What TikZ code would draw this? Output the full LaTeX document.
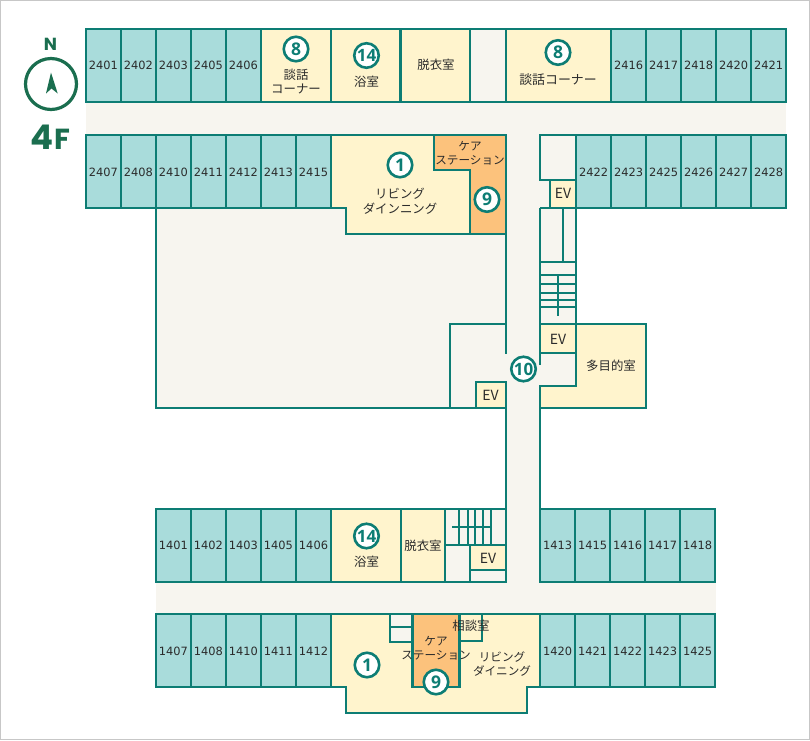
\documentclass[tikz,border=0pt]{standalone}
\usepackage{fontspec}
\setmainfont{Noto Sans CJK JP}
\newfontfamily\numfont{DejaVu Sans}
\newfontfamily\boldnum{Open Sans}
\newfontfamily\headfont{Poppins}
\definecolor{wall}{HTML}{0D7D74}
\definecolor{guest}{HTML}{A9DCDB}
\definecolor{cream}{HTML}{FFF4CD}
\definecolor{care}{HTML}{FCC27C}
\definecolor{floorc}{HTML}{F7F5EF}
\definecolor{brand}{HTML}{1A6E4F}
\definecolor{ink}{HTML}{2B2B2B}
\begin{document}
\begin{tikzpicture}[x=1pt,y=-1pt,
  wl/.style={draw=wall,line width=2.2pt,line join=miter},
  gr/.style={wl,fill=guest},
  cr/.style={wl,fill=cream},
  fl/.style={fill=floorc},
  roomno/.style={font=\numfont\fontsize{11.4}{12}\selectfont,text=ink,inner sep=0pt,text height=8.5pt,text depth=0pt},
  lbl/.style={font=\fontsize{12.4}{14}\selectfont,text=ink,inner sep=0pt},
  lblnarrow/.style={font=\fontsize{11.6}{14}\selectfont,text=ink,inner sep=0pt},
  evlbl/.style={font=\fontsize{14}{14}\selectfont,text=ink,inner sep=0pt},
  badge/.style={circle,draw=wall,fill=white,line width=2.6pt,minimum size=24.5pt,inner sep=0pt,text=wall,font=\boldnum\bfseries\fontsize{17.5}{18}\selectfont},
  badgewide/.style={badge,font=\boldnum\bfseries\fontsize{17}{17}\selectfont},
  headlbl/.style={text=brand,inner sep=0pt,font=\headfont\bfseries}]
\useasboundingbox (0,0) rectangle (810,740);
\draw[draw=black!22,line width=1pt,fill=white] (0.5,0.5) rectangle (809.5,739.5);

% floor areas
\fill[fl] (86,102) rectangle (786,135);
\fill[fl] (470,29) rectangle (506,102);
\fill[fl] (506,102) rectangle (540,614);
\fill[fl] (156,208) rectangle (506,408);
\fill[fl] (540,135) rectangle (576,386);
\fill[fl] (156,582) rectangle (716,614);
\fill[fl] (445,509) rectangle (506,582);

% guest rooms
\foreach \n/\x in {2401/86,2402/121,2403/156,2405/191,2406/226,2416/611,2417/646,2418/681,2420/716,2421/751}{
  \draw[gr] (\x,29) rectangle ++(35,73);
  \node[roomno] (r\n) at (\x+17.5,65) {\n};}
\foreach \n/\x in {2407/86,2408/121,2410/156,2411/191,2412/226,2413/261,2415/296,2422/576,2423/611,2425/646,2426/681,2427/716,2428/751}{
  \draw[gr] (\x,135) rectangle ++(35,73);
  \node[roomno] (r\n) at (\x+17.5,172) {\n};}
\foreach \n/\x in {1401/156,1402/191,1403/226,1405/261,1406/296,1413/540,1415/575,1416/610,1417/645,1418/680}{
  \draw[gr] (\x,509) rectangle ++(35,73);
  \node[roomno] (r\n) at (\x+17.5,545.5) {\n};}
\foreach \n/\x in {1407/156,1408/191,1410/226,1411/261,1412/296,1420/540,1421/575,1422/610,1423/645,1425/680}{
  \draw[gr] (\x,614) rectangle ++(35,73);
  \node[roomno] (r\n) at (\x+17.5,651) {\n};}

% cream rooms, top
\draw[cr] (261,29) rectangle (331,102);
\draw[cr] (331,29) rectangle (400.5,102);
\draw[cr] (400.5,29) rectangle (470,102);
\draw[wl] (470,29) -- (506,29);
\draw[wl] (470,102) -- (506,102);
\draw[cr] (506,29) rectangle (611,102);
% living and care, upper wing
\draw[cr] (331,135) -- (434,135) -- (434,170) -- (470,170) -- (470,234) -- (346,234) -- (346,208) -- (331,208) -- cycle;
\draw[wl,fill=care] (434,135) -- (506,135) -- (506,234) -- (470,234) -- (470,170) -- (434,170) -- cycle;
% right-hand core
\draw[wl] (576,180) -- (576,135) -- (540,135) -- (540,180) -- (550,180);
\draw[cr] (550,180) rectangle (576,208);
\draw[wl] (540,208) -- (576,208);
\draw[wl] (540,208) -- (540,365);
\draw[wl] (576,208) -- (576,386);
\draw[wl] (563,208) -- (563,262);
\foreach \y in {262,275,284,293,300,307}{\draw[wl] (540,\y) -- (576,\y);}
\draw[wl] (558,275) -- (558,316);
\draw[cr] (540,324) rectangle (576,353);
\draw[cr] (576,324) -- (646,324) -- (646,408) -- (540,408) -- (540,386) -- (576,386) -- cycle;
% court
\draw[wl] (156,208) -- (156,408) -- (506,408);
\draw[wl] (506,234) -- (506,354);
\draw[wl] (450,408) -- (450,324) -- (506,324);
\draw[cr] (476,382) rectangle (506,408);
\draw[wl] (506,382) -- (506,582);
\draw[wl] (540,386) -- (540,582);
% lower wing, north side
\draw[cr] (331,509) rectangle (401,582);
\draw[cr] (401,509) rectangle (445,582);
\draw[wl] (445,509) -- (506,509);
\foreach \x in {459,468,475,483,491}{\draw[wl] (\x,509) -- (\x,545);}
\draw[wl] (452,527) -- (491,527);
\draw[wl] (445,545) -- (506,545);
\draw[cr] (470,545) rectangle (506,570);
\draw[wl] (470,570) -- (470,582);
\draw[wl] (445,582) -- (507,582);
% lower wing, south side
\draw[cr] (331,614) -- (540,614) -- (540,687) -- (527,687) -- (527,713) -- (346,713) -- (346,687) -- (331,687) -- cycle;
\draw[wl,fill=care] (412.5,614) rectangle (459.5,687);
\draw[wl,fill=floorc] (390,614) rectangle (412.5,642);
\draw[wl] (390,627) -- (412.5,627);
\draw[wl] (459.5,614) -- (482,614) -- (482,641) -- (459.5,641);

% labels
\node[lbl] (danwaA) at (296,75) {談話};
\node[lbl] (cornerA) at (296,89) {コーナー};
\node[lbl] (yokuA) at (366.5,82) {浴室};
\node[lbl] (datsuA) at (436,65) {脱衣室};
\node[lbl,font=\fontsize{12.9}{14}\selectfont] (danwaB) at (558,80) {談話コーナー};
\node[lblnarrow] (careA) at (470,146) {ケア};
\node[lblnarrow] (stationA) at (470,160) {ステーション};
\node[lbl] (livingA) at (400,194) {リビング};
\node[lbl] (diningA) at (400,209) {ダインニング};
\node[evlbl] (evA) at (563,193) {EV};
\node[evlbl] (evB) at (558,339) {EV};
\node[evlbl] (evC) at (490.5,395) {EV};
\node[lbl] (tamoku) at (611,365.5) {多目的室};
\node[lbl] (yokuB) at (366.5,562) {浴室};
\node[lbl] (datsuB) at (423,546) {脱衣室};
\node[evlbl] (evD) at (488,558) {EV};
\node[lbl] (soudan) at (471,626) {相談室};
\node[lblnarrow] (careB) at (436,641) {ケア};
\node[lblnarrow] (stationB) at (436,655) {ステーション};
\node[lblnarrow] (livingB) at (502,657) {リビング};
\node[lblnarrow] (diningB) at (502,671) {ダイニング};

% badges
\node[badge] (b8a) at (296,49) {8};
\node[badgewide] (b14a) at (366.5,55.5) {14};
\node[badge] (b8b) at (558,52.5) {8};
\node[badge] (b1a) at (400,165) {1};
\node[badge] (b9a) at (487,199.5) {9};
\node[badgewide] (b10) at (523.5,369) {10};
\node[badgewide] (b14b) at (366.5,536) {14};
\node[badge] (b1b) at (367,665) {1};
\node[badge] (b9b) at (436,682) {9};

% compass
\node[headlbl,font=\headfont\bfseries\fontsize{17.5}{18}\selectfont] (north) at (50.5,44) {N};
\node[circle,draw=brand,line width=3.2pt,minimum size=51pt,inner sep=0pt] (dial) at (51,84) {};
\fill[brand] (51,72.5) -- (57.7,93.5) -- (51.5,88.5) -- (46,93.5) -- cycle;
\node[headlbl,anchor=base,font=\headfont\bfseries\fontsize{34}{34}\selectfont] (four) at (42.5,149) {4};
\node[headlbl,anchor=base,font=\headfont\bfseries\fontsize{29}{29}\selectfont] (floorF) at (62,149) {F};
\end{tikzpicture}
\end{document}
